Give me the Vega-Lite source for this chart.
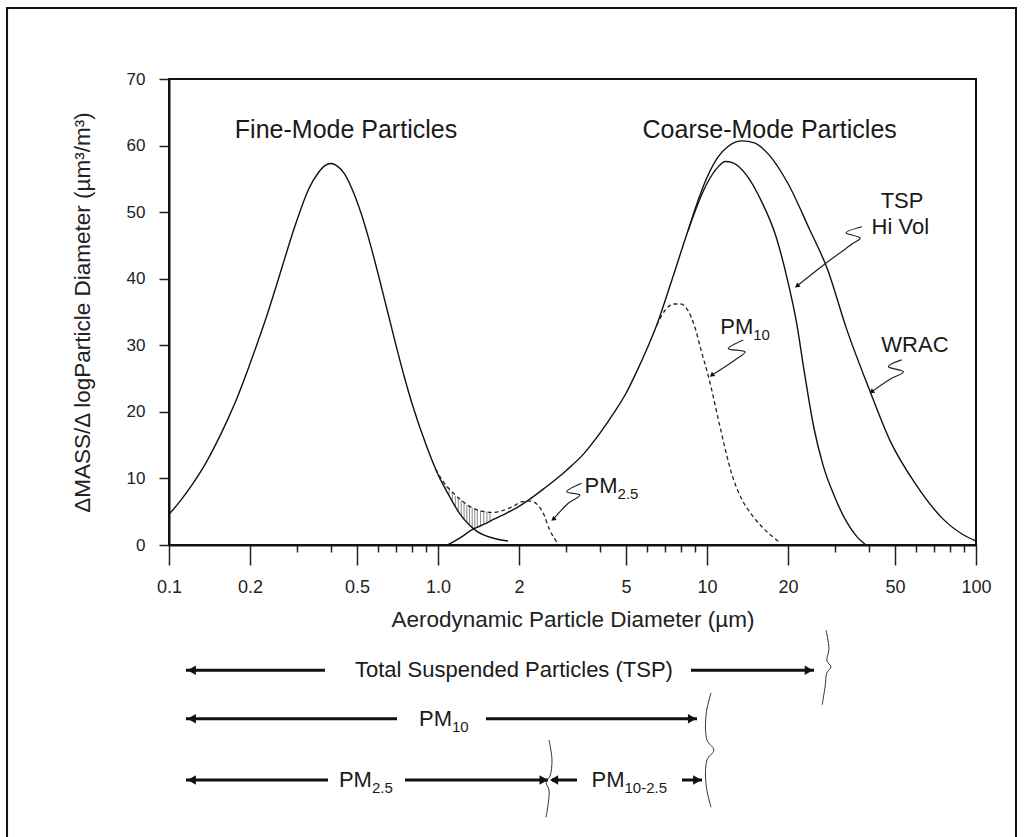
{
  "$schema": "https://vega.github.io/schema/vega-lite/v6.json",
  "autosize": {"type": "none"},
  "width": 807,
  "height": 466,
  "padding": {"left": 169, "top": 79, "right": 49, "bottom": 292},
  "background": "white",
  "config": {
    "font": "Liberation Sans",
    "view": {"stroke": "#111", "strokeWidth": 2},
    "axis": {"domainColor": "#111", "domainWidth": 2, "tickColor": "#222", "tickWidth": 1.5, "labelColor": "#222", "titleColor": "#222", "grid": false, "labelFont": "Liberation Sans", "titleFont": "Liberation Sans", "titleFontWeight": "normal"}
  },
  "datasets": {
    "curves": [
      {"s": "fine", "d": 0.1, "v": 4.6}, {"s": "fine", "d": 0.11, "v": 6.6}, {"s": "fine", "d": 0.123, "v": 9.3}, {"s": "fine", "d": 0.137, "v": 12.3}, {"s": "fine", "d": 0.15, "v": 15.3}, {"s": "fine", "d": 0.165, "v": 18.8}, {"s": "fine", "d": 0.18, "v": 22.3}, {"s": "fine", "d": 0.195, "v": 26.0}, {"s": "fine", "d": 0.21, "v": 29.6}, {"s": "fine", "d": 0.23, "v": 34.2}, {"s": "fine", "d": 0.25, "v": 38.8}, {"s": "fine", "d": 0.27, "v": 43.2}, {"s": "fine", "d": 0.29, "v": 47.2}, {"s": "fine", "d": 0.31, "v": 50.6}, {"s": "fine", "d": 0.33, "v": 53.4}, {"s": "fine", "d": 0.36, "v": 56.0}, {"s": "fine", "d": 0.38, "v": 57.0}, {"s": "fine", "d": 0.4, "v": 57.3}, {"s": "fine", "d": 0.42, "v": 57.0}, {"s": "fine", "d": 0.45, "v": 55.7}, {"s": "fine", "d": 0.48, "v": 53.4}, {"s": "fine", "d": 0.52, "v": 49.6}, {"s": "fine", "d": 0.56, "v": 45.2}, {"s": "fine", "d": 0.6, "v": 40.6}, {"s": "fine", "d": 0.65, "v": 35.0}, {"s": "fine", "d": 0.7, "v": 29.8}, {"s": "fine", "d": 0.75, "v": 25.2}, {"s": "fine", "d": 0.8, "v": 21.3}, {"s": "fine", "d": 0.9, "v": 15.2}, {"s": "fine", "d": 1.0, "v": 10.6}, {"s": "fine", "d": 1.1, "v": 7.4}, {"s": "fine", "d": 1.2, "v": 4.8}, {"s": "fine", "d": 1.3, "v": 3.1}, {"s": "fine", "d": 1.4, "v": 2.0}, {"s": "fine", "d": 1.5, "v": 1.4}, {"s": "fine", "d": 1.65, "v": 0.9}, {"s": "fine", "d": 1.82, "v": 0.6},
      {"s": "tsp", "d": 1.08, "v": 0}, {"s": "tsp", "d": 1.2, "v": 1.0}, {"s": "tsp", "d": 1.34, "v": 2.3}, {"s": "tsp", "d": 1.5, "v": 3.2}, {"s": "tsp", "d": 1.6, "v": 3.8}, {"s": "tsp", "d": 1.8, "v": 4.8}, {"s": "tsp", "d": 2.0, "v": 5.8}, {"s": "tsp", "d": 2.5, "v": 8.6}, {"s": "tsp", "d": 3.0, "v": 11.2}, {"s": "tsp", "d": 3.5, "v": 13.8}, {"s": "tsp", "d": 4.0, "v": 16.8}, {"s": "tsp", "d": 4.5, "v": 19.8}, {"s": "tsp", "d": 5.0, "v": 22.8}, {"s": "tsp", "d": 5.5, "v": 26.2}, {"s": "tsp", "d": 6.0, "v": 29.6}, {"s": "tsp", "d": 6.5, "v": 33}, {"s": "tsp", "d": 7.0, "v": 36.8}, {"s": "tsp", "d": 7.5, "v": 40.5}, {"s": "tsp", "d": 8.0, "v": 44}, {"s": "tsp", "d": 8.5, "v": 47.2}, {"s": "tsp", "d": 9.0, "v": 50}, {"s": "tsp", "d": 10, "v": 54.3}, {"s": "tsp", "d": 11, "v": 56.8}, {"s": "tsp", "d": 11.7, "v": 57.6}, {"s": "tsp", "d": 12.5, "v": 57.4}, {"s": "tsp", "d": 14, "v": 55.6}, {"s": "tsp", "d": 16, "v": 51.5}, {"s": "tsp", "d": 18, "v": 46.5}, {"s": "tsp", "d": 20, "v": 39.5}, {"s": "tsp", "d": 21.5, "v": 33.5}, {"s": "tsp", "d": 23, "v": 26}, {"s": "tsp", "d": 25, "v": 17.5}, {"s": "tsp", "d": 27, "v": 12}, {"s": "tsp", "d": 30, "v": 7}, {"s": "tsp", "d": 33, "v": 3.5}, {"s": "tsp", "d": 36, "v": 1.3}, {"s": "tsp", "d": 39, "v": 0},
      {"s": "wrac", "d": 8.5, "v": 47.2}, {"s": "wrac", "d": 9.0, "v": 50.3}, {"s": "wrac", "d": 10, "v": 55.2}, {"s": "wrac", "d": 11, "v": 58.3}, {"s": "wrac", "d": 12, "v": 59.9}, {"s": "wrac", "d": 13.5, "v": 60.7}, {"s": "wrac", "d": 15, "v": 60.4}, {"s": "wrac", "d": 17, "v": 58.6}, {"s": "wrac", "d": 20, "v": 54.3}, {"s": "wrac", "d": 24, "v": 47.5}, {"s": "wrac", "d": 28, "v": 41.5}, {"s": "wrac", "d": 33, "v": 32.5}, {"s": "wrac", "d": 40, "v": 23.5}, {"s": "wrac", "d": 48, "v": 15.6}, {"s": "wrac", "d": 60, "v": 9}, {"s": "wrac", "d": 75, "v": 4}, {"s": "wrac", "d": 90, "v": 1.5}, {"s": "wrac", "d": 100, "v": 0.6},
      {"s": "pm10", "d": 6.5, "v": 33}, {"s": "pm10", "d": 7.0, "v": 35.3}, {"s": "pm10", "d": 7.5, "v": 36.2}, {"s": "pm10", "d": 8.0, "v": 36.2}, {"s": "pm10", "d": 8.5, "v": 35.2}, {"s": "pm10", "d": 9.0, "v": 32.8}, {"s": "pm10", "d": 9.5, "v": 29.3}, {"s": "pm10", "d": 10.2, "v": 24.8}, {"s": "pm10", "d": 11.1, "v": 18.3}, {"s": "pm10", "d": 12.4, "v": 10.5}, {"s": "pm10", "d": 13.5, "v": 6.8}, {"s": "pm10", "d": 14.7, "v": 4.5}, {"s": "pm10", "d": 16.5, "v": 2.2}, {"s": "pm10", "d": 18.8, "v": 0.3},
      {"s": "pm25", "d": 0.98, "v": 11.4}, {"s": "pm25", "d": 1.05, "v": 9.4}, {"s": "pm25", "d": 1.14, "v": 7.8}, {"s": "pm25", "d": 1.24, "v": 6.5}, {"s": "pm25", "d": 1.31, "v": 5.8}, {"s": "pm25", "d": 1.45, "v": 5.1}, {"s": "pm25", "d": 1.6, "v": 4.9}, {"s": "pm25", "d": 1.75, "v": 5.2}, {"s": "pm25", "d": 1.9, "v": 5.8}, {"s": "pm25", "d": 2.05, "v": 6.5}, {"s": "pm25", "d": 2.2, "v": 6.6}, {"s": "pm25", "d": 2.35, "v": 6.0}, {"s": "pm25", "d": 2.46, "v": 4.8}, {"s": "pm25", "d": 2.6, "v": 2.3}, {"s": "pm25", "d": 2.78, "v": 0.3}
    ],
    "hatch": [
      {"d": 1.04, "lo": 9.2, "hi": 9.6}, {"d": 1.07, "lo": 8.3, "hi": 8.9}, {"d": 1.1, "lo": 7.4, "hi": 8.3}, {"d": 1.13, "lo": 6.6, "hi": 7.9}, {"d": 1.16, "lo": 5.8, "hi": 7.4}, {"d": 1.19, "lo": 5.1, "hi": 7.0}, {"d": 1.22, "lo": 4.5, "hi": 6.7}, {"d": 1.25, "lo": 3.9, "hi": 6.4}, {"d": 1.28, "lo": 3.4, "hi": 6.0}, {"d": 1.31, "lo": 3.0, "hi": 5.8}, {"d": 1.34, "lo": 2.6, "hi": 5.6}, {"d": 1.37, "lo": 2.5, "hi": 5.45}, {"d": 1.4, "lo": 2.7, "hi": 5.3}, {"d": 1.44, "lo": 2.95, "hi": 5.15}, {"d": 1.48, "lo": 3.1, "hi": 5.05}, {"d": 1.52, "lo": 3.35, "hi": 5.0}, {"d": 1.56, "lo": 3.55, "hi": 4.95}
    ],
    "squiggles": [
      {"id": "tsp", "i": 1, "d": 37.7, "v": 47.8}, {"id": "tsp", "i": 2, "d": 32.9, "v": 46.9}, {"id": "tsp", "i": 3, "d": 37.1, "v": 46.1}, {"id": "tsp", "i": 4, "d": 34.6, "v": 45.2}, {"id": "tsp", "i": 5, "d": 27.2, "v": 42.1}, {"id": "tsp", "i": 6, "d": 21.6, "v": 38.9},
      {"id": "wrac", "i": 1, "d": 52.9, "v": 27.8}, {"id": "wrac", "i": 2, "d": 47.2, "v": 26.8}, {"id": "wrac", "i": 3, "d": 53.7, "v": 26.0}, {"id": "wrac", "i": 4, "d": 47.9, "v": 24.9}, {"id": "wrac", "i": 5, "d": 40.9, "v": 23.0},
      {"id": "pm10", "i": 1, "d": 13.65, "v": 30.8}, {"id": "pm10", "i": 2, "d": 12.0, "v": 29.5}, {"id": "pm10", "i": 3, "d": 13.85, "v": 29.0}, {"id": "pm10", "i": 4, "d": 12.71, "v": 27.8}, {"id": "pm10", "i": 5, "d": 10.41, "v": 25.5},
      {"id": "pm25", "i": 1, "d": 3.42, "v": 9.27}, {"id": "pm25", "i": 2, "d": 3.01, "v": 8.0}, {"id": "pm25", "i": 3, "d": 3.37, "v": 7.5}, {"id": "pm25", "i": 4, "d": 3.05, "v": 6.26}, {"id": "pm25", "i": 5, "d": 2.68, "v": 3.86}
    ],
    "tips": [
      {"d": 21.6, "v": 38.9}, {"d": 40.9, "v": 23.0}, {"d": 10.41, "v": 25.5}, {"d": 2.68, "v": 3.86}
    ],
    "bigLabels": [
      {"t": "Fine-Mode Particles", "d": 0.455, "v": 62.4}, {"t": "Coarse-Mode Particles", "d": 17.1, "v": 62.4}
    ],
    "midLabels": [
      {"t": "TSP", "d": 53.1, "v": 51.7}, {"t": "Hi Vol", "d": 52.3, "v": 47.8}, {"t": "WRAC", "d": 59.3, "v": 30.0}, {"t": "Total Suspended Particles (TSP)", "d": 1.916, "v": -18.8}
    ],
    "pmLabels": [
      {"t": "PM", "sub": "10", "d": 14.86, "v": 32.7}, {"t": "PM", "sub": "2.5", "d": 4.65, "v": 8.9}, {"t": "PM", "sub": "10", "d": 1.127, "v": -26.1}, {"t": "PM", "sub": "2.5", "d": 0.568, "v": -35.3}, {"t": "PM", "sub": "10-2.5", "d": 4.934, "v": -35.3}
    ],
    "ranges": [
      {"a": 0.1156, "b": 0.380, "v": -18.8}, {"a": 8.72, "b": 25.0, "v": -18.8},
      {"a": 0.1156, "b": 0.704, "v": -26.1}, {"a": 1.508, "b": 9.18, "v": -26.1},
      {"a": 0.1156, "b": 0.390, "v": -35.3}, {"a": 0.754, "b": 2.564, "v": -35.3},
      {"a": 2.653, "b": 3.286, "v": -35.3}, {"a": 8.07, "b": 9.58, "v": -35.3}
    ],
    "leftHeads": [
      {"d": 0.1215, "v": -18.8}, {"d": 0.1215, "v": -26.1}, {"d": 0.1215, "v": -35.3}, {"d": 2.7, "v": -35.3}
    ],
    "rightHeads": [
      {"d": 23.9, "v": -18.8}, {"d": 8.8, "v": -26.1}, {"d": 2.47, "v": -35.3}, {"d": 9.2, "v": -35.3}
    ],
    "braces": [
      {"id": "tsp", "i": 1, "d": 27.7, "v": -12.8}, {"id": "tsp", "i": 2, "d": 28.4, "v": -15.6}, {"id": "tsp", "i": 3, "d": 27.9, "v": -17.4}, {"id": "tsp", "i": 4, "d": 28.9, "v": -18.3}, {"id": "tsp", "i": 5, "d": 27.9, "v": -19.2}, {"id": "tsp", "i": 6, "d": 27.5, "v": -21.2}, {"id": "tsp", "i": 7, "d": 26.8, "v": -24.0},
      {"id": "pm10", "i": 1, "d": 10.35, "v": -22.2}, {"id": "pm10", "i": 2, "d": 9.92, "v": -25.5}, {"id": "pm10", "i": 3, "d": 10.0, "v": -29.3}, {"id": "pm10", "i": 4, "d": 10.6, "v": -30.8}, {"id": "pm10", "i": 5, "d": 10.0, "v": -32.3}, {"id": "pm10", "i": 6, "d": 9.92, "v": -36.0}, {"id": "pm10", "i": 7, "d": 10.35, "v": -39.4},
      {"id": "mid", "i": 1, "d": 2.586, "v": -29.3}, {"id": "mid", "i": 2, "d": 2.653, "v": -32.3}, {"id": "mid", "i": 3, "d": 2.608, "v": -34.7}, {"id": "mid", "i": 4, "d": 2.52, "v": -35.6}, {"id": "mid", "i": 5, "d": 2.586, "v": -36.8}, {"id": "mid", "i": 6, "d": 2.564, "v": -39.1}, {"id": "mid", "i": 7, "d": 2.52, "v": -40.9}
    ],
    "frame": [
      {"a": 0.025, "b": 140.8, "top": 80.66, "bot": -45.8}
    ]
  },
  "encoding": {
    "x": {"field": "d", "type": "quantitative"},
    "y": {"field": "v", "type": "quantitative"}
  },
  "layer": [
    {
      "data": {"name": "frame"},
      "mark": {"type": "rect", "fill": null, "stroke": "#111", "strokeWidth": 2, "clip": false},
      "encoding": {
        "x": {"field": "a", "type": "quantitative", "scale": {"type": "log", "domain": [0.1, 100], "nice": false}},
        "x2": {"field": "b"},
        "y": {"field": "top", "type": "quantitative", "scale": {"domain": [0, 70], "nice": false, "zero": false}},
        "y2": {"field": "bot"}
      }
    },
    {
      "data": {"name": "hatch"},
      "mark": {"type": "rule", "stroke": "#555", "strokeWidth": 0.7},
      "encoding": {
        "x": {"field": "d", "type": "quantitative"},
        "y": {"field": "lo", "type": "quantitative"},
        "y2": {"field": "hi"}
      }
    },
    {
      "data": {"name": "curves"},
      "transform": [{"filter": "datum.s == 'fine' || datum.s == 'tsp' || datum.s == 'wrac'"}],
      "mark": {"type": "line", "stroke": "#111", "strokeWidth": 1.4, "interpolate": "monotone"},
      "encoding": {
        "x": {"field": "d", "type": "quantitative", "scale": {"type": "log", "domain": [0.1, 100], "nice": false},
          "axis": {
            "values": [0.1, 0.2, 0.3, 0.4, 0.5, 0.6, 0.7, 0.8, 0.9, 1, 2, 3, 4, 5, 6, 7, 8, 9, 10, 20, 30, 40, 50, 60, 70, 80, 90, 100],
            "labelExpr": "indexof([0.1, 0.2, 0.5, 1, 2, 5, 10, 20, 50, 100], datum.value) >= 0 ? (datum.value == 1 ? '1.0' : '' + datum.value) : ''",
            "tickSize": {"condition": {"test": "indexof([0.1, 0.2, 0.5, 1, 2, 5, 10, 20, 50, 100], datum.value) >= 0", "value": 20}, "value": 7},
            "labelFontSize": 18, "labelPadding": 13, "labelFlush": false,
            "title": "Aerodynamic Particle Diameter (µm)", "titleFontSize": 22.5, "titlePadding": 12
          }},
        "y": {"field": "v", "type": "quantitative", "scale": {"domain": [0, 70], "nice": false, "zero": false},
          "axis": {"values": [0, 10, 20, 30, 40, 50, 60, 70], "tickSize": 10, "labelFontSize": 17, "labelPadding": 14,
            "title": "ΔMASS/Δ logParticle Diameter (µm³/m³)", "titleFontSize": 22.5, "titlePadding": 32}},
        "detail": {"field": "s"}
      }
    },
    {
      "data": {"name": "curves"},
      "transform": [{"filter": "datum.s == 'pm10' || datum.s == 'pm25'"}],
      "mark": {"type": "line", "stroke": "#222", "strokeWidth": 1.3, "strokeDash": [4, 3], "interpolate": "monotone"},
      "encoding": {
        "x": {"field": "d", "type": "quantitative"},
        "y": {"field": "v", "type": "quantitative"},
        "detail": {"field": "s"}
      }
    },
    {
      "data": {"name": "squiggles"},
      "mark": {"type": "line", "stroke": "#222", "strokeWidth": 1.2, "interpolate": "catmull-rom"},
      "encoding": {
        "x": {"field": "d", "type": "quantitative"},
        "y": {"field": "v", "type": "quantitative"},
        "detail": {"field": "id"},
        "order": {"field": "i", "type": "quantitative"}
      }
    },
    {
      "data": {"name": "tips"},
      "mark": {"type": "point", "shape": "triangle-up", "angle": 233, "size": 30, "filled": true, "color": "#111", "opacity": 1},
      "encoding": {
        "x": {"field": "d", "type": "quantitative"},
        "y": {"field": "v", "type": "quantitative"}
      }
    },
    {
      "data": {"name": "braces"},
      "mark": {"type": "line", "stroke": "#333", "strokeWidth": 1, "interpolate": "catmull-rom", "clip": false},
      "encoding": {
        "x": {"field": "d", "type": "quantitative"},
        "y": {"field": "v", "type": "quantitative"},
        "detail": {"field": "id"},
        "order": {"field": "i", "type": "quantitative"}
      }
    },
    {
      "data": {"name": "ranges"},
      "mark": {"type": "rule", "stroke": "#111", "strokeWidth": 3},
      "encoding": {
        "x": {"field": "a", "type": "quantitative"},
        "x2": {"field": "b"},
        "y": {"field": "v", "type": "quantitative"}
      }
    },
    {
      "data": {"name": "leftHeads"},
      "mark": {"type": "point", "shape": "triangle-left", "size": 90, "filled": true, "color": "#111", "opacity": 1},
      "encoding": {
        "x": {"field": "d", "type": "quantitative"},
        "y": {"field": "v", "type": "quantitative"}
      }
    },
    {
      "data": {"name": "rightHeads"},
      "mark": {"type": "point", "shape": "triangle-right", "size": 90, "filled": true, "color": "#111", "opacity": 1},
      "encoding": {
        "x": {"field": "d", "type": "quantitative"},
        "y": {"field": "v", "type": "quantitative"}
      }
    },
    {
      "data": {"name": "bigLabels"},
      "mark": {"type": "text", "fontSize": 25, "align": "center", "baseline": "middle", "color": "#1a1a1a", "font": "Liberation Sans"},
      "encoding": {
        "x": {"field": "d", "type": "quantitative"},
        "y": {"field": "v", "type": "quantitative"},
        "text": {"field": "t"}
      }
    },
    {
      "data": {"name": "midLabels"},
      "mark": {"type": "text", "fontSize": 22, "align": "center", "baseline": "middle", "color": "#1a1a1a", "font": "Liberation Sans"},
      "encoding": {
        "x": {"field": "d", "type": "quantitative"},
        "y": {"field": "v", "type": "quantitative"},
        "text": {"field": "t"}
      }
    },
    {
      "data": {"name": "pmLabels"},
      "mark": {"type": "text", "fontSize": 22, "align": "right", "baseline": "middle", "color": "#1a1a1a", "font": "Liberation Sans"},
      "encoding": {
        "x": {"field": "d", "type": "quantitative"},
        "y": {"field": "v", "type": "quantitative"},
        "text": {"field": "t"}
      }
    },
    {
      "data": {"name": "pmLabels"},
      "mark": {"type": "text", "fontSize": 15, "align": "left", "baseline": "middle", "dy": 8, "color": "#1a1a1a", "font": "Liberation Sans"},
      "encoding": {
        "x": {"field": "d", "type": "quantitative"},
        "y": {"field": "v", "type": "quantitative"},
        "text": {"field": "sub"}
      }
    }
  ]
}
